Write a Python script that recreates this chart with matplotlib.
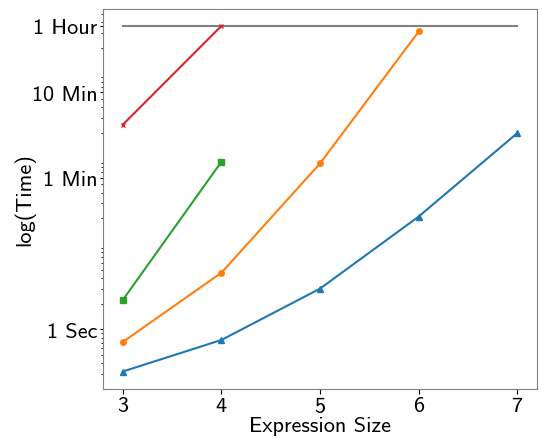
import matplotlib
matplotlib.use('Agg')
from matplotlib import pyplot as plt
import numpy as np

plt.rcParams['font.family'] = ['cmss10', 'DejaVu Sans']
plt.rcParams['axes.formatter.use_mathtext'] = True

# expression sizes and run times (seconds)
sizes_blue = [3, 4, 5, 6, 7]
times_blue = [0.32, 0.75, 3.0, 21, 200]
sizes_orange = [3, 4, 5, 6]
times_orange = [0.71, 4.6, 88, 3100]
sizes_green = [3, 4]
times_green = [2.2, 92]
sizes_red = [3, 4]
times_red = [250, 3600]
limit_x = [3, 7]
limit_y = [3600, 3600]

tick_vals = [1, 60, 600, 3600]
tick_labels = ['1 Sec', '1 Min', '10 Min', '1 Hour']

fig = plt.figure(figsize=(5.42, 4.39), dpi=100)
ax = fig.add_axes([0.19, 0.112, 0.801, 0.866])

ax.plot(limit_x, limit_y, color='gray', lw=1.5)
ax.plot(sizes_blue, times_blue, color='#1f77b4', marker='^', ms=4)
ax.plot(sizes_orange, times_orange, color='#ff7f0e', marker='o', ms=4)
ax.plot(sizes_green, times_green, color='#2ca02c', marker='s', ms=4)
ax.plot(sizes_red, times_red, color='#d62728', marker='x', ms=3)

ax.set_yscale('log')
ax.set_yticks(tick_vals)
ax.set_yticklabels(tick_labels)
ax.set_xticks([3, 4, 5, 6, 7])
ax.tick_params(labelsize=16)
ax.tick_params(axis='y', which='major', length=2.5, pad=1.5)
ax.tick_params(axis='y', which='minor', length=1.5)
ax.tick_params(axis='x', pad=2)
ax.set_xlabel('Expression Size', fontsize=16, labelpad=0)
ax.set_ylabel('log(Time)', fontsize=16)
ax.yaxis.set_label_coords(-0.157, 0.5)
for s in ax.spines.values():
    s.set_color('#808080')

fig.savefig('out.png', dpi=100)
